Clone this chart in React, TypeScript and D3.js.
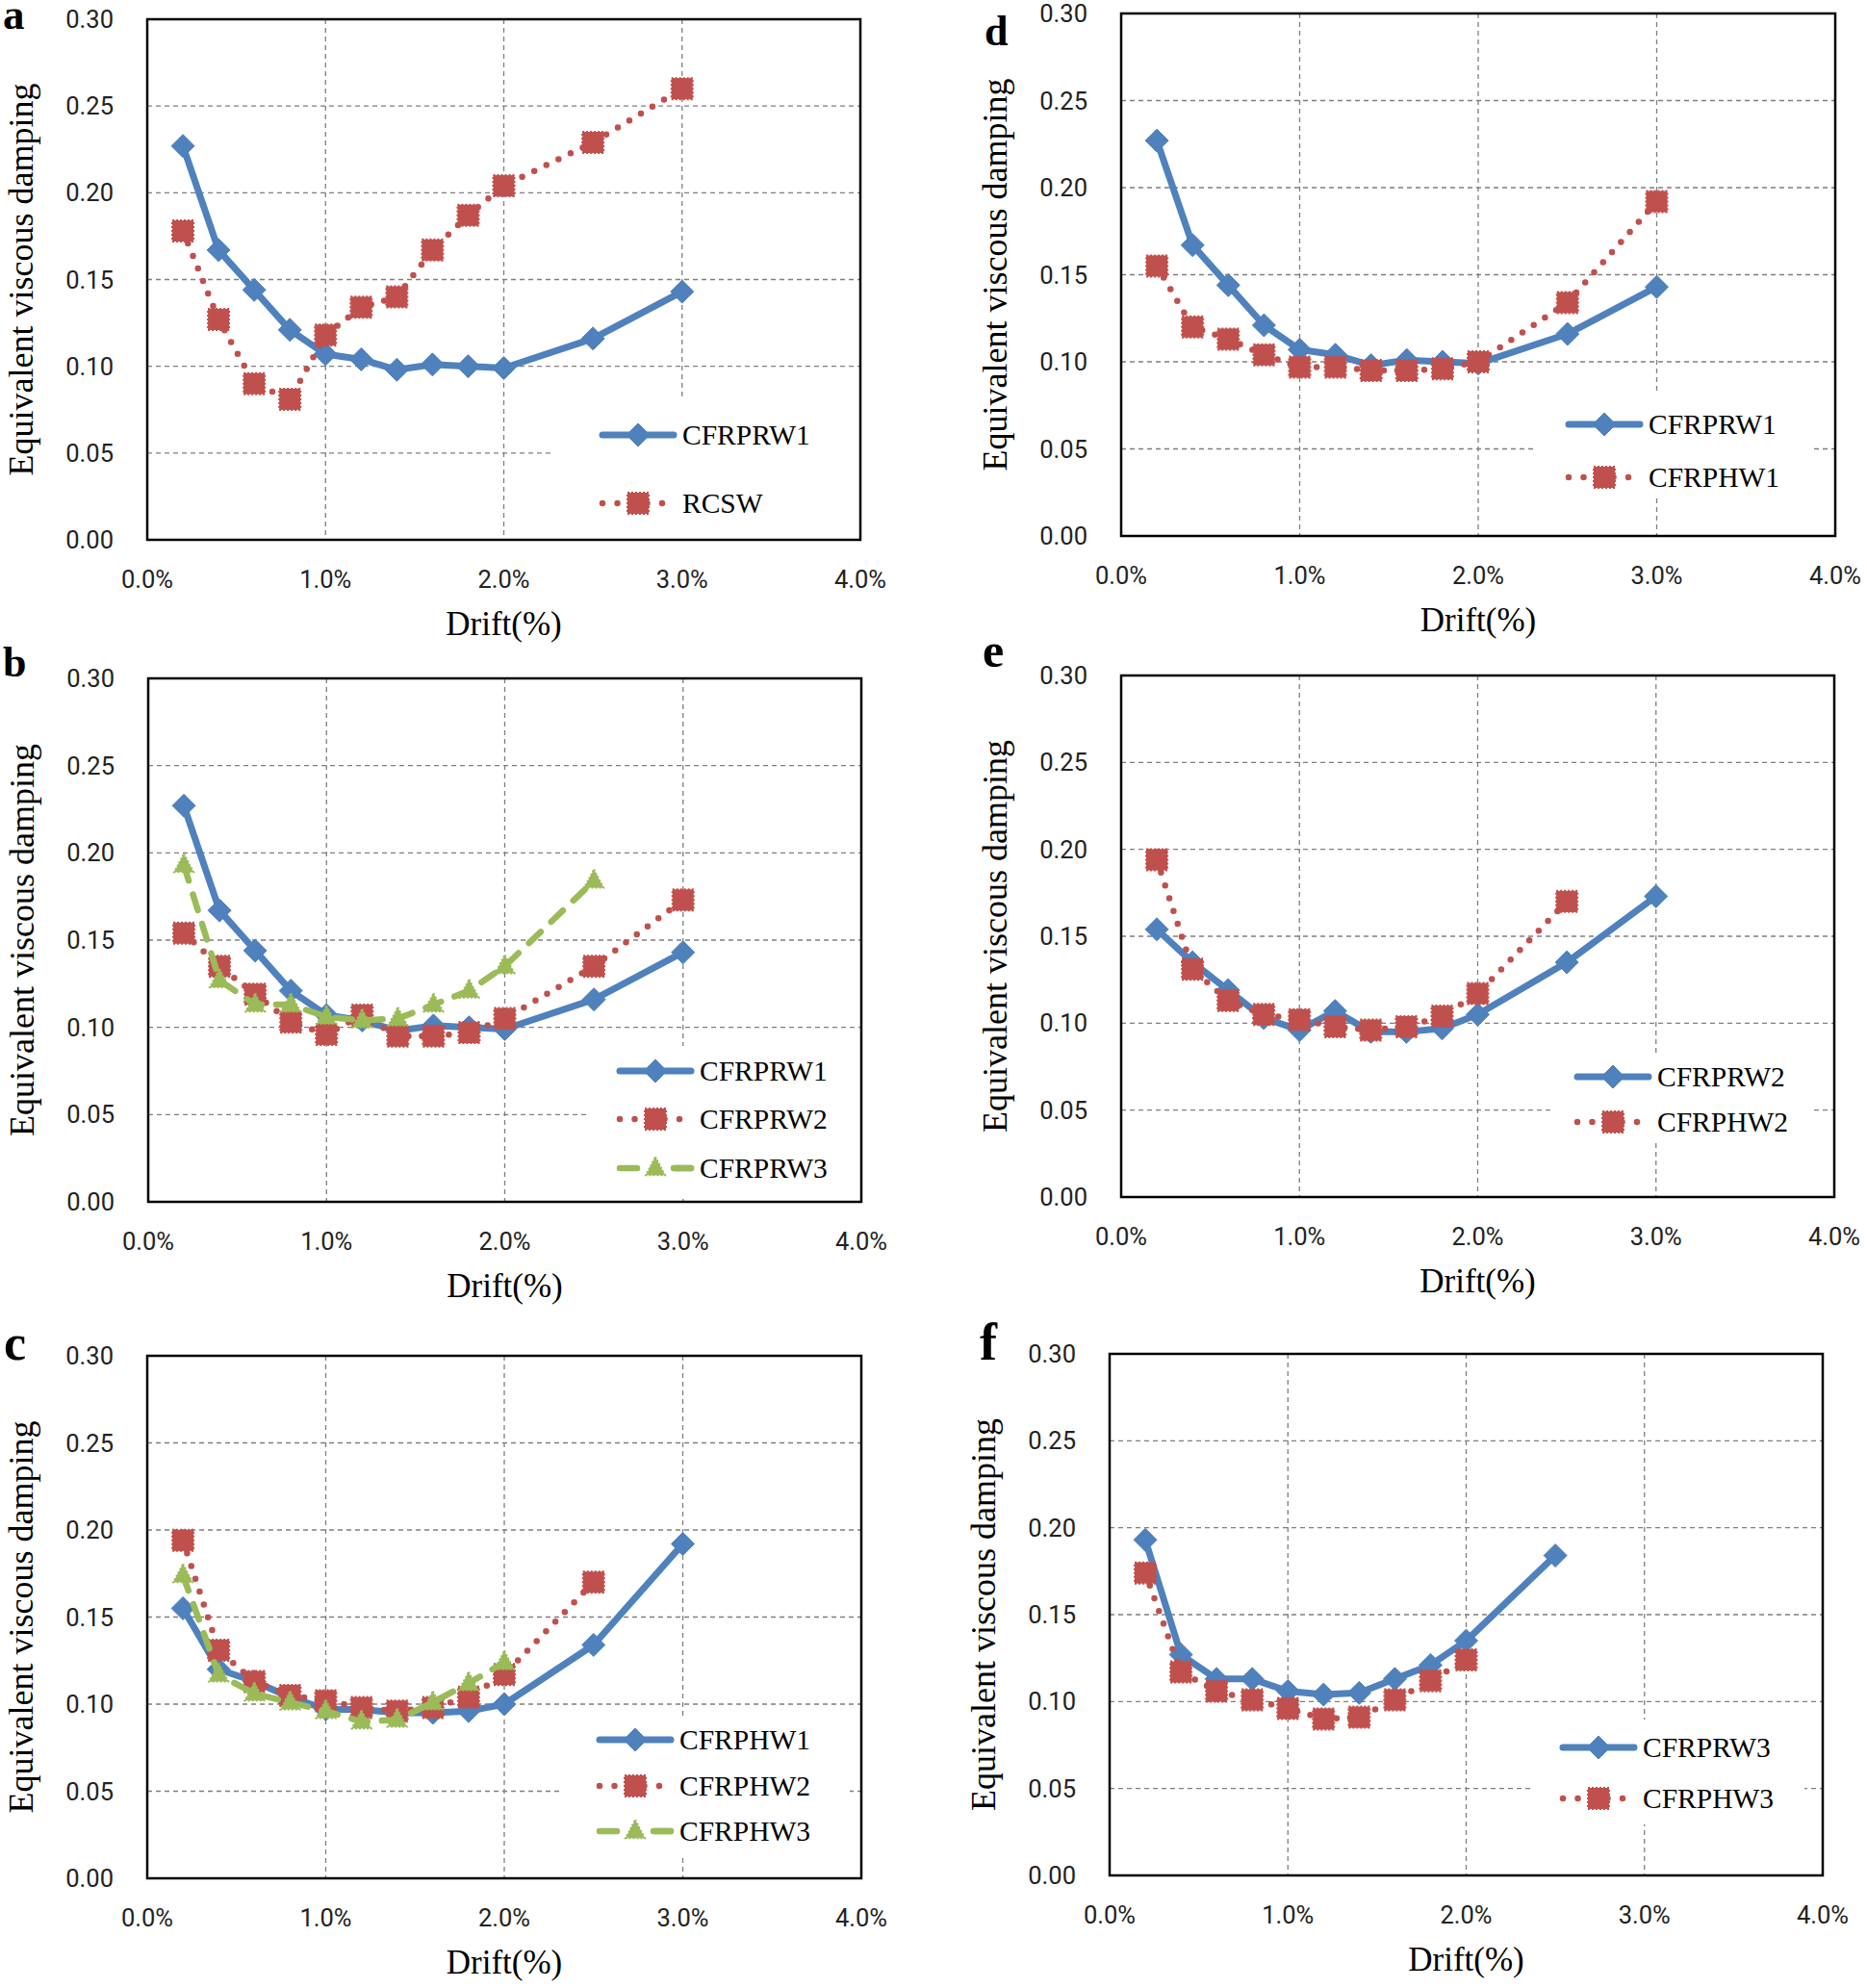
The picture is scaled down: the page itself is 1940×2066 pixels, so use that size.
import React from "react";
import * as d3 from "d3";

// ---- data ----
const drift = [0.2, 0.4, 0.6, 0.8, 1.0, 1.2, 1.4, 1.6, 1.8, 2.0, 2.5, 3.0];
const CFRPRW1 = [0.227, 0.167, 0.144, 0.121, 0.107, 0.104, 0.098, 0.101, 0.100, 0.099, 0.116, 0.143];
const RCSW = [0.178, 0.127, 0.090, 0.081, 0.118, 0.134, 0.140, 0.167, 0.187, 0.204, 0.229, 0.260];
const CFRPRW2 = [0.154, 0.135, 0.119, 0.103, 0.096, 0.107, 0.095, 0.095, 0.097, 0.105, 0.135, 0.173];
const CFRPRW3 = [0.193, 0.127, 0.113, 0.113, 0.106, 0.104, 0.105, 0.113, 0.121, 0.135, 0.184];
const CFRPHW1 = [0.155, 0.120, 0.113, 0.104, 0.097, 0.097, 0.095, 0.095, 0.096, 0.100, 0.134, 0.192];
const CFRPHW2 = [0.194, 0.131, 0.113, 0.105, 0.102, 0.098, 0.096, 0.098, 0.104, 0.117, 0.170];
const CFRPHW3 = [0.174, 0.117, 0.106, 0.101, 0.096, 0.090, 0.091, 0.101, 0.112, 0.124];

const yTicks = [0, 0.05, 0.1, 0.15, 0.2, 0.25, 0.3];
const xTicks = [0, 1, 2, 3, 4];
const yTickLabels = ["0.00", "0.05", "0.10", "0.15", "0.20", "0.25", "0.30"];
const xTickLabels = ["0.0%", "1.0%", "2.0%", "3.0%", "4.0%"];

// ---- styles ----
const BLUE = "#4F81BD";
const RED = "#C0504D";
const GREEN = "#9BBB59";
const SERIF = "'Liberation Serif', 'Times New Roman', serif";
const SANS = "Roboto, 'Liberation Sans', sans-serif";

type Kind = "blue" | "red" | "green";
type SeriesDef = { name: string; values: number[]; kind: Kind };

type PanelDef = {
  letter: string;
  letterX: number;
  letterY: number;
  letterSize: number;
  left: number;
  right: number;
  top: number;
  bottom: number;
  box: [number, number, number, number];
  legX: number;
  legRows: number[];
  series: SeriesDef[];
};

const panels: PanelDef[] = [
  {
    letter: "a", letterX: 3, letterY: 30, letterSize: 45,
    left: 153, right: 894, top: 20, bottom: 561,
    box: [575, 416, 894, 558], legX: 623, legRows: [452, 523],
    series: [
      { name: "CFRPRW1", values: CFRPRW1, kind: "blue" },
      { name: "RCSW", values: RCSW, kind: "red" },
    ],
  },
  {
    letter: "b", letterX: 3, letterY: 703, letterSize: 44,
    left: 154, right: 895, top: 705, bottom: 1249,
    box: [610, 1087, 895, 1246], legX: 641, legRows: [1113, 1163, 1214],
    series: [
      { name: "CFRPRW1", values: CFRPRW1, kind: "blue" },
      { name: "CFRPRW2", values: CFRPRW2, kind: "red" },
      { name: "CFRPRW3", values: CFRPRW3, kind: "green" },
    ],
  },
  {
    letter: "c", letterX: 4, letterY: 1413, letterSize: 52,
    left: 153, right: 895, top: 1409, bottom: 1952,
    box: [585, 1783, 883, 1928], legX: 620, legRows: [1808, 1856, 1903],
    series: [
      { name: "CFRPHW1", values: CFRPHW1, kind: "blue" },
      { name: "CFRPHW2", values: CFRPHW2, kind: "red" },
      { name: "CFRPHW3", values: CFRPHW3, kind: "green" },
    ],
  },
  {
    letter: "d", letterX: 1023, letterY: 47, letterSize: 44,
    left: 1165, right: 1907, top: 14, bottom: 557,
    box: [1596, 408, 1881, 518], legX: 1627, legRows: [441, 496],
    series: [
      { name: "CFRPRW1", values: CFRPRW1, kind: "blue" },
      { name: "CFRPHW1", values: CFRPHW1, kind: "red" },
    ],
  },
  {
    letter: "e", letterX: 1021, letterY: 693, letterSize: 50,
    left: 1165, right: 1906, top: 702, bottom: 1244,
    box: [1614, 1094, 1884, 1186], legX: 1636, legRows: [1119, 1166],
    series: [
      { name: "CFRPRW2", values: CFRPRW2, kind: "blue" },
      { name: "CFRPHW2", values: CFRPHW2, kind: "red" },
    ],
  },
  {
    letter: "f", letterX: 1018, letterY: 1413, letterSize: 54,
    left: 1153, right: 1894, top: 1407, bottom: 1949,
    box: [1593, 1787, 1875, 1896], legX: 1621, legRows: [1816, 1869],
    series: [
      { name: "CFRPRW3", values: CFRPRW3, kind: "blue" },
      { name: "CFRPHW3", values: CFRPHW3, kind: "red" },
    ],
  },
];

const lineStyle = (kind: Kind) => {
  if (kind === "blue") return { stroke: BLUE, strokeWidth: 7, dash: undefined as string | undefined, cap: "round" as const };
  if (kind === "red") return { stroke: RED, strokeWidth: 6.5, dash: "0,14", cap: "round" as const };
  return { stroke: GREEN, strokeWidth: 6.5, dash: "17,15", cap: "round" as const };
};

function Marker({ kind, x, y }: { kind: Kind; x: number; y: number }) {
  if (kind === "blue") {
    const r = 12;
    return (
      <path
        d={`M${x},${y - r}L${x + r},${y}L${x},${y + r}L${x - r},${y}Z`}
        fill={BLUE}
        stroke={BLUE}
        strokeWidth={1}
      />
    );
  }
  if (kind === "red") {
    const s = 22;
    return (
      <rect
        x={x - s / 2}
        y={y - s / 2}
        width={s}
        height={s}
        fill={RED}
        stroke={RED}
        strokeWidth={2}
        strokeDasharray="2,2"
      />
    );
  }
  const h = 19;
  const w = 20;
  return (
    <path
      d={`M${x},${y - h * 0.62}L${x + w / 2},${y + h * 0.38}L${x - w / 2},${y + h * 0.38}Z`}
      fill={GREEN}
      stroke={GREEN}
      strokeWidth={2}
      strokeDasharray="2,2"
    />
  );
}

function Panel({ p }: { p: PanelDef }) {
  const x = d3.scaleLinear().domain([0, 4]).range([p.left, p.right]);
  const y = d3.scaleLinear().domain([0, 0.3]).range([p.bottom, p.top]);
  const line = d3
    .line<[number, number]>()
    .x((d) => x(d[0]))
    .y((d) => y(d[1]));
  const [bx0, by0, bx1, by1] = p.box;
  const cy = (p.top + p.bottom) / 2;
  const cx = (p.left + p.right) / 2;

  return (
    <g>
      {yTicks.slice(1, -1).map((t) => (
        <line key={"gy" + t} x1={p.left} x2={p.right} y1={y(t)} y2={y(t)} stroke="#7f7f7f" strokeWidth={1.3} strokeDasharray="5,4" />
      ))}
      {xTicks.slice(1, -1).map((t) => (
        <line key={"gx" + t} x1={x(t)} x2={x(t)} y1={p.top} y2={p.bottom} stroke="#7f7f7f" strokeWidth={1.3} strokeDasharray="5,4" />
      ))}
      <rect x={bx0} y={by0} width={bx1 - bx0} height={by1 - by0} fill="#fff" />
      <rect x={p.left} y={p.top} width={p.right - p.left} height={p.bottom - p.top} fill="none" stroke="#000" strokeWidth={2.5} />

      {p.series.map((s) => {
        const pts = s.values.map((v, i) => [drift[i], v] as [number, number]);
        const ls = lineStyle(s.kind);
        return (
          <g key={s.name}>
            <path
              d={line(pts) || ""}
              fill="none"
              stroke={ls.stroke}
              strokeWidth={ls.strokeWidth}
              strokeDasharray={ls.dash}
              strokeLinecap={ls.cap}
              strokeLinejoin="round"
            />
            {pts.map((d, i) => (
              <Marker key={i} kind={s.kind} x={x(d[0])} y={y(d[1])} />
            ))}
          </g>
        );
      })}

      {p.series.map((s, i) => {
        const ry = p.legRows[i];
        const ls = lineStyle(s.kind);
        const lx0 = p.legX;
        const lx1 = p.legX + 80;
        return (
          <g key={"leg" + s.name}>
            <line
              x1={lx0 + 3}
              x2={lx1 - 3}
              y1={ry}
              y2={ry}
              stroke={ls.stroke}
              strokeWidth={ls.strokeWidth}
              strokeDasharray={s.kind === "red" ? "0,15.5" : s.kind === "green" ? "18,40" : undefined}
              strokeLinecap="round"
            />
            {s.kind === "green" && (
              <line x1={lx1 - 21} x2={lx1 - 3} y1={ry} y2={ry} stroke={GREEN} strokeWidth={6.5} strokeLinecap="round" />
            )}
            <Marker kind={s.kind} x={(lx0 + lx1) / 2} y={ry} />
            <text x={lx1 + 6} y={ry + 10} fontFamily={SERIF} fontSize={29.5} fill="#000">
              {s.name}
            </text>
          </g>
        );
      })}

      {yTicks.map((t, i) => (
        <text key={"yl" + t} x={p.left - 35} y={y(t) + 9} textAnchor="end" fontFamily={SANS} fontSize={25.5} fill="#222">
          {yTickLabels[i]}
        </text>
      ))}
      {xTicks.map((t, i) => (
        <text key={"xl" + t} x={x(t)} y={p.bottom + 50} textAnchor="middle" fontFamily={SANS} fontSize={25.5} fill="#222">
          {xTickLabels[i]}
        </text>
      ))}
      <text x={cx} y={p.bottom + 99} textAnchor="middle" fontFamily={SERIF} fontSize={35} fill="#000">
        Drift(%)
      </text>
      <text
        transform={`translate(${p.left - 119},${cy}) rotate(-90)`}
        textAnchor="middle"
        fontFamily={SERIF}
        fontSize={36}
        fill="#000"
      >
        Equivalent viscous damping
      </text>
      <text x={p.letterX} y={p.letterY} fontFamily={SERIF} fontWeight="bold" fontSize={p.letterSize} fill="#000">
        {p.letter}
      </text>
    </g>
  );
}

export default function App() {
  return (
    <svg
      width={1940}
      height={2066}
      viewBox="0 0 1940 2066"
      style={{ position: "absolute", left: 0, top: 0, background: "#fff" }}
    >
      <rect x={0} y={0} width={1940} height={2066} fill="#fff" />
      {panels.map((p) => (
        <Panel key={p.letter} p={p} />
      ))}
    </svg>
  );
}
